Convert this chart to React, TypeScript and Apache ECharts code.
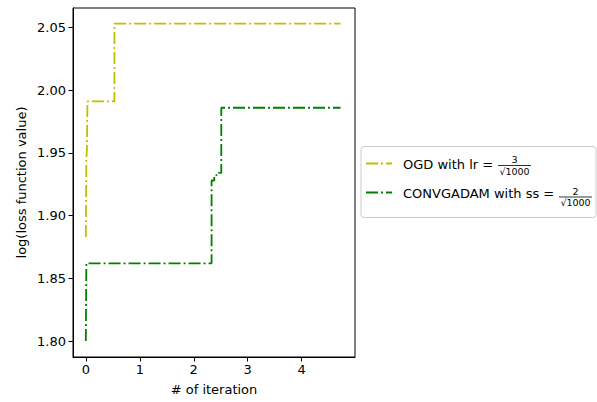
import React, { useEffect, useRef } from "react";
import * as echarts from "echarts";

const ogdX = [0, 0.01, 0.02, 0.03, 0.53, 4.72];
const ogdY = [1.883, 1.945, 1.953, 1.991, 2.053, 2.053];
const convX = [0, 0.01, 2.33, 2.38, 2.42, 2.51, 4.72];
const convY = [1.8, 1.862, 1.928, 1.932, 1.934, 1.986, 1.986];
const xTicks = [0, 1, 2, 3, 4];
const yTicks = [1.8, 1.85, 1.9, 1.95, 2.0, 2.05];
const seriesNames = ["OGD with lr = ", "CONVGADAM with ss = "];
const numerators = ["3", "2"];
const denominator = "√1000";

const FONT = "DejaVu Sans";
const FS = 13;
const LW = 1.8;
const dash = [12, 3, 2, 3];

export default function App() {
  const ref = useRef<HTMLDivElement>(null);
  useEffect(() => {
    if (!ref.current) return;
    const chart = echarts.init(ref.current, undefined, { renderer: "svg" });
    const colors = ["#bfbf00", "#008000"];
    const legendRows = [164, 193];
    const bars = [
      { x1: 498, x2: 531, y: 165.5 },
      { x1: 559, x2: 592, y: 197 },
    ];
    const legendGraphics: any[] = [
      {
        type: "rect",
        shape: { x: 361, y: 146.5, width: 235, height: 71, r: 3 },
        style: { fill: "rgba(255,255,255,0.8)", stroke: "#cccccc", lineWidth: 1 },
        z: 100,
      },
    ];
    legendRows.forEach((y, i) => {
      const b = bars[i];
      const cx = (b.x1 + b.x2) / 2;
      legendGraphics.push({
        type: "line",
        shape: { x1: 366, y1: y - 0.5, x2: 392, y2: y - 0.5 },
        style: { stroke: colors[i], lineWidth: LW, lineDash: dash },
        z: 101,
      });
      legendGraphics.push({
        type: "text",
        x: 403,
        y: y,
        style: { text: seriesNames[i], font: `${FS}px "${FONT}"`, fill: "#000", verticalAlign: "middle", align: "left" },
        z: 101,
      });
      legendGraphics.push({
        type: "text",
        x: cx,
        y: b.y - 1,
        style: { text: numerators[i], font: `9.5px "${FONT}"`, fill: "#000", verticalAlign: "bottom", align: "center" },
        z: 101,
      });
      legendGraphics.push({
        type: "line",
        shape: { x1: b.x1, y1: b.y, x2: b.x2, y2: b.y },
        style: { stroke: "#000", lineWidth: 0.8 },
        z: 101,
      });
      legendGraphics.push({
        type: "text",
        x: cx,
        y: b.y + 0.8,
        style: { text: denominator, font: `9.5px "${FONT}"`, fill: "#000", verticalAlign: "top", align: "center" },
        z: 101,
      });
    });

    chart.setOption({
      animation: false,
      textStyle: { fontFamily: FONT },
      grid: {
        left: 73,
        top: 8,
        right: 242,
        bottom: 45,
        show: true,
        borderColor: "#000",
        borderWidth: 1,
        containLabel: false,
      },
      xAxis: {
        type: "value",
        min: -0.2375,
        max: 4.9875,
        name: "# of iteration",
        nameLocation: "middle",
        nameGap: 26,
        nameTextStyle: { fontSize: FS, color: "#000", fontFamily: FONT },
        axisLine: { show: true, onZero: false, lineStyle: { color: "#000", width: 1 } },
        axisTick: { show: true, length: 4.5, lineStyle: { color: "#000", width: 1 }, customValues: xTicks },
        axisLabel: { fontSize: FS, color: "#000", margin: 6, customValues: xTicks, formatter: (v: number) => String(v) },
        splitLine: { show: false },
      },
      yAxis: {
        type: "value",
        min: 1.7873,
        max: 2.0655,
        name: "log(loss function value)",
        nameLocation: "middle",
        nameGap: 45,
        nameRotate: 90,
        nameTextStyle: { fontSize: FS, color: "#000", fontFamily: FONT },
        axisLine: { show: true, onZero: false, lineStyle: { color: "#000", width: 1 } },
        axisTick: { show: true, length: 4.5, lineStyle: { color: "#000", width: 1 }, customValues: yTicks },
        axisLabel: { fontSize: FS, color: "#000", margin: 7, customValues: yTicks, formatter: (v: number) => v.toFixed(2) },
        splitLine: { show: false },
      },
      series: [
        {
          type: "line",
          name: "OGD",
          step: "end",
          data: ogdX.map((x, i) => [x, ogdY[i]]),
          showSymbol: false,
          lineStyle: { color: colors[0], width: LW, type: dash },
        },
        {
          type: "line",
          name: "CONVGADAM",
          step: "end",
          data: convX.map((x, i) => [x, convY[i]]),
          showSymbol: false,
          lineStyle: { color: colors[1], width: LW, type: dash },
        },
      ],
      graphic: legendGraphics,
    });
    return () => chart.dispose();
  }, []);
  return <div ref={ref} style={{ width: 597, height: 402, position: "absolute", left: 0, top: 0 }} />;
}
